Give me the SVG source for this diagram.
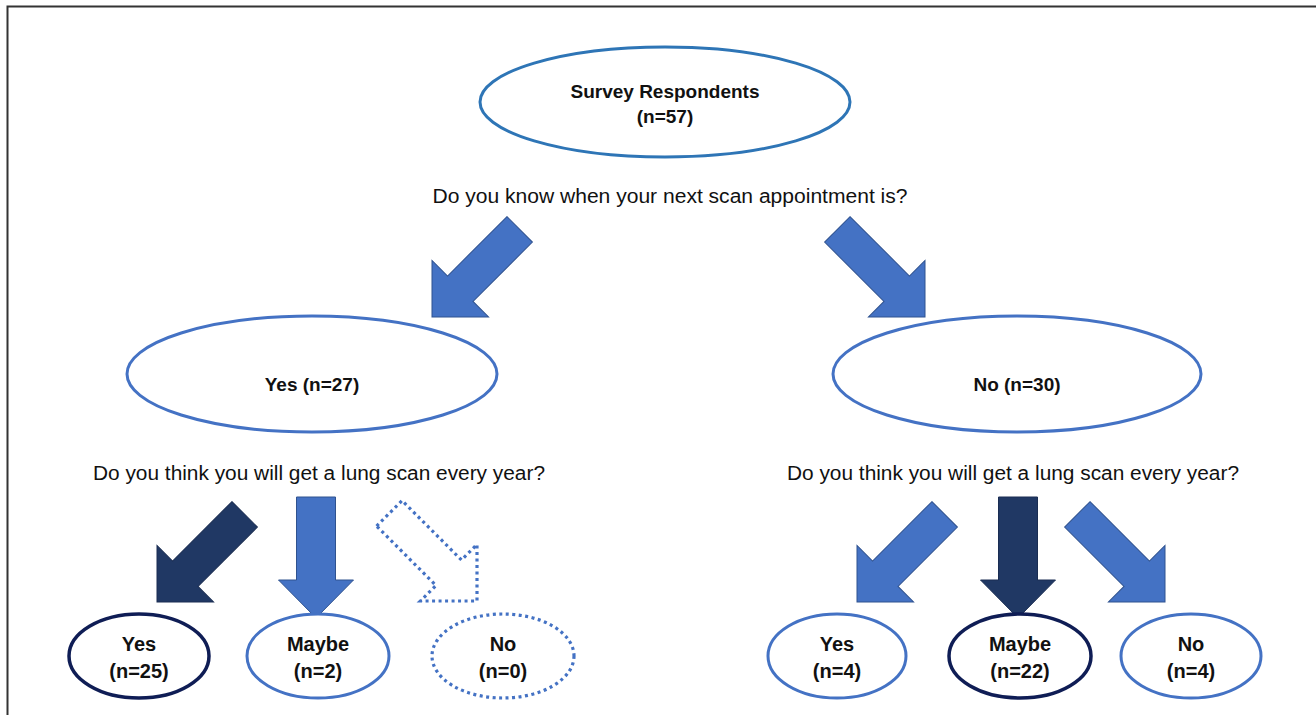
<svg xmlns="http://www.w3.org/2000/svg" width="1316" height="715" viewBox="0 0 1316 715">
<style>
.t{font-family:"Liberation Sans",Arial,sans-serif;fill:#111;text-anchor:middle}
.b{font-weight:bold;font-size:19px}
.bl{font-weight:bold;font-size:20px}
.q{font-size:20px}
.e{fill:#fff}
.top{stroke:#2e75b6;stroke-width:3}
.mid{stroke:#4472c4;stroke-width:3}
.dark{stroke:#0f1d55;stroke-width:3.5}
.dot{stroke:#4472c4;stroke-width:3.2;stroke-dasharray:3 3.5;fill:none}
.am{fill:#4472c4;stroke:#2f528f;stroke-width:1}
.ad{fill:#203864;stroke:#1a2d52;stroke-width:1}
</style>
<defs>
<path id="diag" d="M-18,-124 H18 V-40 H40 L0,0 L-40,-40 H-18 Z"/>
<path id="down" d="M-19.5,-121 H19.5 V-38 H37.5 L0,0 L-37.5,-38 H-19.5 Z"/>
</defs>
<rect width="1316" height="715" fill="#fff"/>
<path d="M7.5,715 V6.5 H1316" fill="none" stroke="#333" stroke-width="2"/>

<g id="connectors">
<use href="#diag" class="am" transform="translate(432,317) rotate(45)"/>
<use href="#diag" class="am" transform="translate(925,317) rotate(-45)"/>
<use href="#diag" class="ad" transform="translate(157,602) rotate(45)"/>
<use href="#down" class="am" transform="translate(316,618)"/>
<use href="#diag" class="dot" transform="translate(477,601) rotate(-45)"/>
<use href="#diag" class="am" transform="translate(857,602) rotate(45)"/>
<use href="#down" class="ad" transform="translate(1018,618)"/>
<use href="#diag" class="am" transform="translate(1165,602) rotate(-45)"/>
</g>

<g id="root">
<ellipse class="e top" cx="665" cy="102" rx="185" ry="55"/>
<text class="t b" x="665" y="98">Survey Respondents</text>
<text class="t b" x="665" y="123">(n=57)</text>
</g>
<text id="q1" class="t q" x="670" y="203" textLength="475" lengthAdjust="spacingAndGlyphs">Do you know when your next scan appointment is?</text>

<g id="yes27">
<ellipse class="e mid" cx="312" cy="374" rx="185" ry="58"/>
<text class="t b" x="312" y="391">Yes (n=27)</text>
</g>
<g id="no30">
<ellipse class="e mid" cx="1017" cy="374" rx="184" ry="58"/>
<text class="t b" x="1017" y="391">No (n=30)</text>
</g>

<text id="q2l" class="t q" x="319" y="480" textLength="452" lengthAdjust="spacingAndGlyphs">Do you think you will get a lung scan every year?</text>
<text id="q2r" class="t q" x="1013" y="480" textLength="452" lengthAdjust="spacingAndGlyphs">Do you think you will get a lung scan every year?</text>

<g id="yes25">
<ellipse class="e dark" cx="139" cy="656" rx="70" ry="42"/>
<text class="t bl" x="139" y="651">Yes</text>
<text class="t bl" x="139" y="678">(n=25)</text>
</g>
<g id="maybe2">
<ellipse class="e mid" cx="318" cy="656" rx="71" ry="42"/>
<text class="t bl" x="318" y="651">Maybe</text>
<text class="t bl" x="318" y="678">(n=2)</text>
</g>
<g id="no0">
<ellipse class="dot" cx="503" cy="656" rx="71" ry="42"/>
<text class="t bl" x="503" y="651">No</text>
<text class="t bl" x="503" y="678">(n=0)</text>
</g>
<g id="yes4">
<ellipse class="e mid" cx="837" cy="656" rx="69" ry="42"/>
<text class="t bl" x="837" y="651">Yes</text>
<text class="t bl" x="837" y="678">(n=4)</text>
</g>
<g id="maybe22">
<ellipse class="e dark" cx="1020" cy="656" rx="71" ry="42"/>
<text class="t bl" x="1020" y="651">Maybe</text>
<text class="t bl" x="1020" y="678">(n=22)</text>
</g>
<g id="no4">
<ellipse class="e mid" cx="1191" cy="656" rx="70" ry="42"/>
<text class="t bl" x="1191" y="651">No</text>
<text class="t bl" x="1191" y="678">(n=4)</text>
</g>
</svg>
